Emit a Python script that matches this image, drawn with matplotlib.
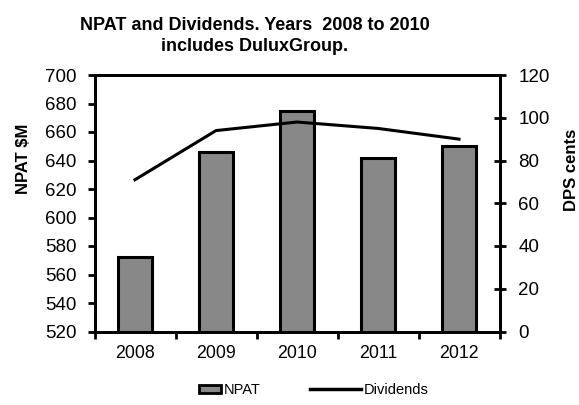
import matplotlib
matplotlib.use("Agg")
import matplotlib.pyplot as plt
from matplotlib.patches import Patch, Rectangle
from matplotlib.lines import Line2D
from matplotlib.legend_handler import HandlerPatch

plt.rcParams['font.family'] = ['Liberation Sans', 'DejaVu Sans']

years = ["2008", "2009", "2010", "2011", "2012"]
npat = [572, 646, 675, 642, 650]
dividends = [71, 94, 98, 95, 90]

fig = plt.figure(figsize=(5.79, 4.05), dpi=100)
ax = fig.add_axes([94.5 / 579, 1 - 331.5 / 405, 405 / 579, 256.5 / 405])
x = list(range(len(years)))
ax.bar(x, [v - 520 for v in npat], bottom=520, width=0.42, color='#888888',
       edgecolor='black', linewidth=2.2, zorder=2)
ax.set_xlim(-0.5, 4.5)
ax.set_ylim(520, 700)
ax.set_yticks(range(520, 701, 20))
ax.set_xticks(x)
ax.set_xticklabels(years, fontsize=12.8)
ax.set_xticks([i + 0.5 for i in range(-1, 5)], minor=True)
ax.tick_params(axis='x', which='major', length=0, pad=10)
ax.tick_params(axis='x', which='minor', length=5, width=2, direction='out')
ax.tick_params(axis='y', which='major', length=5, width=2, direction='out',
               labelsize=13.5, pad=8)
for s in ax.spines.values():
    s.set_linewidth(2)

ax2 = ax.twinx()
ax2.plot(x, dividends, color='black', linewidth=2.2, zorder=3)
ax2.set_ylim(0, 120)
ax2.set_yticks(range(0, 121, 20))
ax2.tick_params(axis='y', length=9, width=2, direction='inout', labelsize=13.5, pad=9)
for s in ax2.spines.values():
    s.set_linewidth(2)

fig.text(23 / 579, 1 - 159 / 405, "NPAT $M", rotation=90, ha='center', va='center',
         fontsize=12, fontweight='bold')
fig.text(571 / 579, 1 - 170 / 405, "DPS cents", rotation=90, ha='center', va='center',
         fontsize=12, fontweight='bold')

fig.text(255 / 579, 1 - 36 / 405, "NPAT and Dividends. Years  2008 to 2010\nincludes DuluxGroup.",
         fontsize=13, fontweight='bold', ha='center', va='center', linespacing=1.35)


def small_rect(legend, orig_handle, xdescent, ydescent, width, height, fontsize):
    w = width * 0.44
    return Rectangle((-xdescent + width - w, -ydescent + height * 0.05), w, height * 0.8)


handles = [Patch(facecolor='#888888', edgecolor='black', linewidth=2),
           Line2D([0], [0], color='black', linewidth=2.5)]
fig.legend(handles, ["NPAT", "Dividends"], loc='center', bbox_to_anchor=(0.517, 1 - 390 / 405),
           ncol=2, frameon=False, fontsize=10.5, columnspacing=3.4, handlelength=3.5,
           handletextpad=0.15, handler_map={Patch: HandlerPatch(patch_func=small_rect)})

fig.savefig("out.png", dpi=100)
